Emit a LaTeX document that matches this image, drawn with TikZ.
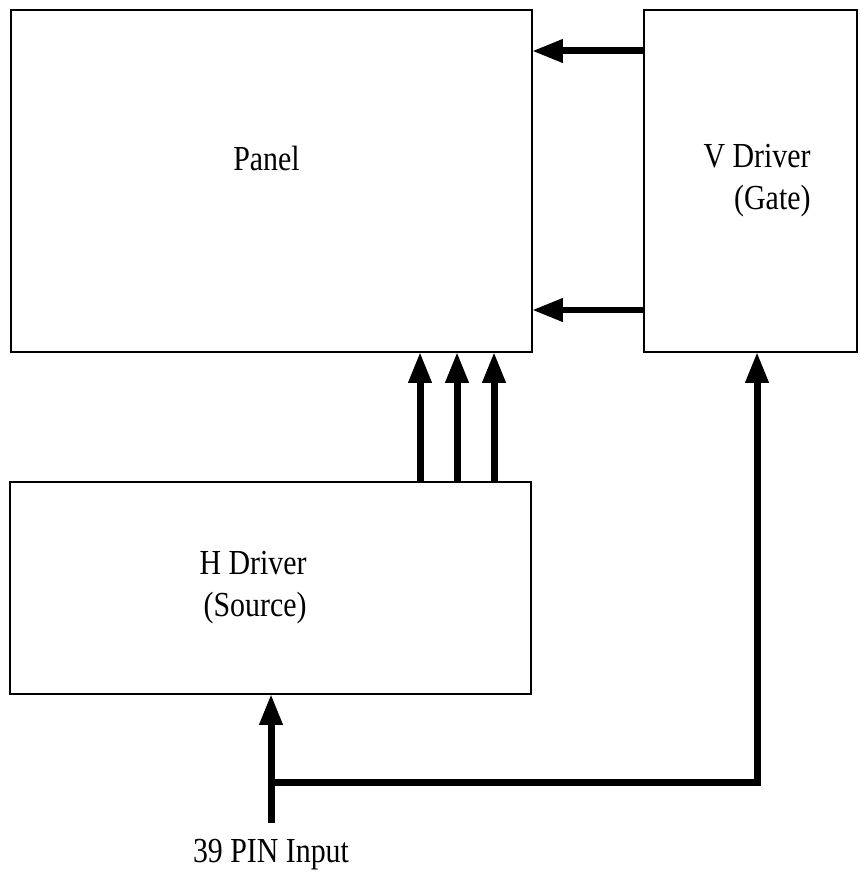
\documentclass[tikz,border=0pt]{standalone}
\usepackage{fontspec}
\setmainfont[FakeStretch=0.85]{Liberation Serif}
\usepackage{tikz}
\usetikzlibrary{arrows.meta, positioning}

\tikzset{
	blk/.style={draw, line width=0.05cm, inner sep=0pt, outer sep=0pt, minimum height=6.84cm},
	sig/.style={line width=0.14cm, -{Triangle[length=0.62cm, width=0.44cm]}},
	lbl/.style={font=\fontsize{20}{24}\selectfont, align=right}
}

\begin{document}
\begin{tikzpicture}[x=0.02cm, y=-0.02cm]
	\useasboundingbox (0,0) rectangle (859,878);
	\node[blk, minimum width=10.42cm] (panel) at (271.5,181) {};
	\node[blk, minimum width=4.26cm] (vdrv) at (750.5,181) {};
	\node[blk, minimum width=10.42cm, minimum height=4.24cm] (hdrv) at (270.5,588) {};
	\node[lbl] (panellbl) at (266.5,158) {Panel};
	\node[lbl] (vdrvlbl) at (757,181) {V Driver\\(Gate)};
	\node[lbl] (hdrvlbl) at (253,588) {H Driver\\(Source)};
	\node[lbl] (inlbl) at (271,855) {39 PIN Input};
	\coordinate (in) at (271,823);
	\coordinate (split) at (271,782);
	\draw[sig] (vdrv.west |- 0,51) -- (panel.east |- 0,51);
	\draw[sig] (vdrv.west |- 0,310) -- (panel.east |- 0,310);
	\draw[sig] (hdrv.north -| 420,0) -- (panel.south -| 420,0);
	\draw[sig] (hdrv.north -| 457,0) -- (panel.south -| 457,0);
	\draw[sig] (hdrv.north -| 494,0) -- (panel.south -| 494,0);
	\draw[sig] (in) -- (hdrv.south -| in);
	\draw[sig, line join=miter] (split) -| (vdrv.south -| 757,0);
\end{tikzpicture}
\end{document}
